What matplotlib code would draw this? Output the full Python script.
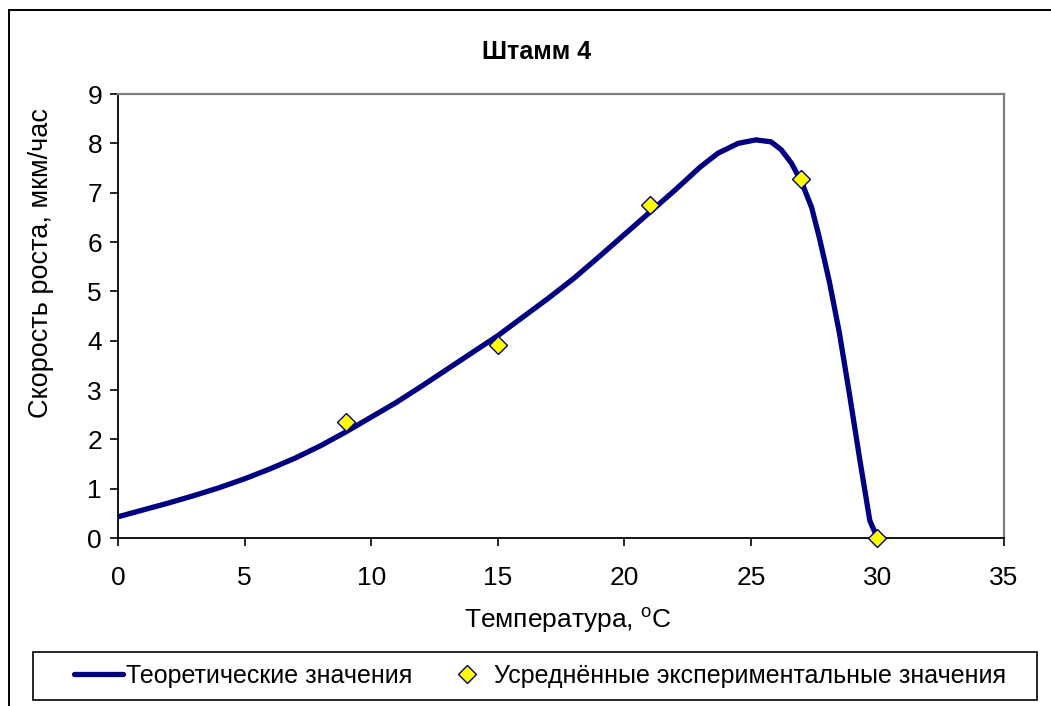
import matplotlib.pyplot as plt
from matplotlib.patches import Rectangle

plt.rcParams['font.family'] = ['Liberation Sans', 'DejaVu Sans']
plt.rcParams['mathtext.fontset'] = 'custom'
plt.rcParams['mathtext.rm'] = 'Liberation Sans'

# theoretical curve
t_theory = [0, 1, 2, 3, 4, 5, 6, 7, 8, 9, 10, 11, 12, 13, 14, 15, 16, 17, 18, 19,
            20, 21, 22, 23, 23.7, 24.5, 25.2, 25.8, 26.2, 26.6, 27, 27.4, 27.7, 28.1,
            28.5, 28.9, 29.3, 29.7, 30]
v_theory = [0.43, 0.57, 0.71, 0.86, 1.02, 1.2, 1.4, 1.62, 1.87, 2.15, 2.45, 2.75, 3.08,
            3.42, 3.76, 4.1, 4.48, 4.86, 5.26, 5.7, 6.15, 6.6, 7.05, 7.52, 7.8, 8.0,
            8.07, 8.03, 7.87, 7.6, 7.22, 6.7, 6.1, 5.2, 4.15, 2.9, 1.6, 0.35, 0.0]

# averaged experimental points
t_exp = [9, 15, 21, 27, 30]
v_exp = [2.35, 3.92, 6.75, 7.27, 0.0]

W, H = 1051, 706
fig = plt.figure(figsize=(W / 100, H / 100), dpi=100)
ax = fig.add_axes([118 / W, 1 - 538 / H, (1004 - 118) / W, (538 - 94) / H])

ax.plot(t_theory, v_theory, color='#000080', lw=3.8, solid_capstyle='round',
        solid_joinstyle='round', zorder=3, label='Теоретические значения')
ax.plot(t_exp, v_exp, ls='none', marker='D', ms=9, mfc='#ffff00', mec='#000080',
        mew=1.0, zorder=4, clip_on=False, label='Усреднённые экспериментальные значения')

ax.set_xlim(0, 35)
ax.set_ylim(0, 9)
ax.set_xticks(range(0, 36, 5))
ax.set_yticks(range(0, 10))
ax.tick_params(axis='both', direction='out', length=5.5, width=1.2, labelsize=19)
ax.tick_params(axis='x', pad=15)
ax.tick_params(axis='y', pad=6)
for s in ['left', 'bottom']:
    ax.spines[s].set_color('black')
    ax.spines[s].set_linewidth(1.3)
for s in ['top', 'right']:
    ax.spines[s].set_color('#808080')
    ax.spines[s].set_linewidth(1.6)

fig.text(537 / W, 1 - 52 / H, 'Штамм 4', fontsize=18, fontweight='bold',
         ha='center', va='center')
fig.text(568 / W, 1 - 620 / H, 'Температура, $^{\\mathrm{o}}$C', fontsize=19,
         ha='center', va='center')
fig.text(41 / W, 1 - 263 / H, 'Скорость роста, мкм/час', fontsize=19.5,
         rotation=90, ha='center', va='center')

# outer chart frame (cut off on the right and bottom)
fig.patches.append(Rectangle((9 / W, -0.1), 1.2, 1.1 - 10 / H, transform=fig.transFigure,
                             fill=False, ec='black', lw=1.4))
# legend frame
fig.patches.append(Rectangle((33 / W, 1 - 700 / H), (1037 - 33) / W, 48 / H,
                             transform=fig.transFigure, fill=False, ec='black', lw=1.2))
fig.legend(loc='center', bbox_to_anchor=(540 / W, 1 - 676 / H), ncol=2, frameon=False,
           fontsize=18, handlelength=1.95, handletextpad=0.12, columnspacing=1.2,
           borderpad=0, borderaxespad=0)

fig.savefig('out.png', dpi=100)
